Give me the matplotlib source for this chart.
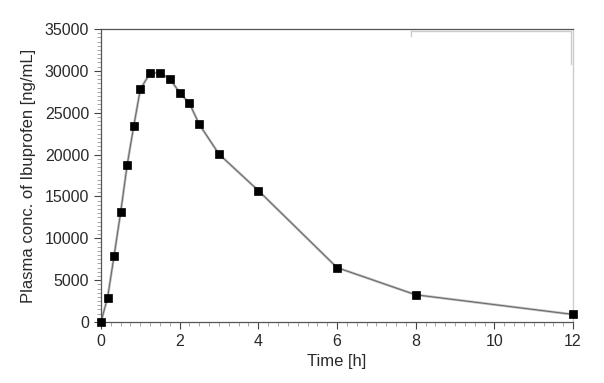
import numpy as np
import matplotlib
matplotlib.use("Agg")
import matplotlib.pyplot as plt
from matplotlib.ticker import MultipleLocator

plt.rcParams['font.family'] = ['Liberation Sans', 'DejaVu Sans']

# time points [h] and plasma concentration [ng/mL]
time_h = [0, 0.167, 0.333, 0.5, 0.667, 0.833, 1, 1.25, 1.5, 1.75,
          2, 2.25, 2.5, 3, 4, 6, 8, 12]
conc = [0, 2900, 7900, 13100, 18800, 23400, 27800, 29750, 29750, 29050,
        27400, 26100, 23600, 20050, 15700, 6500, 3250, 900]

fig = plt.figure(figsize=(6.04, 3.83), dpi=100)
ax = fig.add_axes([0.1672, 0.1593, 0.7815, 0.765])

ax.plot(time_h, conc, color='#bbbbbb', lw=1.8, zorder=2, clip_on=False)
ax.plot(time_h, conc, color='#666666', lw=0.7, zorder=2, clip_on=False)
ax.plot(time_h, conc, ls='none', marker='s', ms=5.6, mew=0.5,
        mfc='black', mec='black', zorder=3, clip_on=False)

ax.set_xlim(0, 12)
ax.set_ylim(0, 35000)
ax.xaxis.set_major_locator(MultipleLocator(2))
ax.xaxis.set_minor_locator(MultipleLocator(0.25))
ax.yaxis.set_major_locator(MultipleLocator(5000))
ax.yaxis.set_minor_locator(MultipleLocator(500))

ax.tick_params(which='major', direction='out', length=5, width=0.8,
               colors='#444444', labelcolor='#2a2a2a', labelsize=11.5)
ax.tick_params(which='minor', direction='out', length=3, width=0.6,
               colors='#999999')

for s in ['left', 'bottom', 'top']:
    ax.spines[s].set_color('#555555')
    ax.spines[s].set_linewidth(0.9)
ax.spines['right'].set_color('#cccccc')
ax.spines['right'].set_linewidth(1.0)

# faint legend frame remnant at the top right
ax.plot([0.657, 0.995, 0.995], [0.993, 0.993, 0.88], color='#cccccc',
        lw=1.0, transform=ax.transAxes, clip_on=False)
ax.plot([0.657, 0.657], [0.993, 0.975], color='#cccccc',
        lw=1.0, transform=ax.transAxes, clip_on=False)

ax.set_xlabel('Time [h]', fontsize=12, color='#2a2a2a', labelpad=4)
ax.set_ylabel('Plasma conc. of Ibuprofen [ng/mL]', fontsize=12,
              color='#2a2a2a', labelpad=6)

fig.savefig('out.png', dpi=100)
